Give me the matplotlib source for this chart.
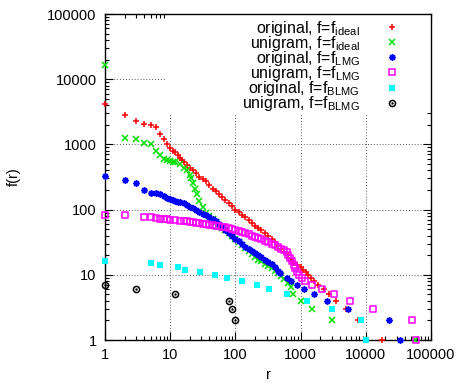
##########################################
# rank-frequency plot, gnuplot look-alike #
##########################################
import matplotlib
matplotlib.use('Agg')
import matplotlib.pyplot as plt
from matplotlib.path import Path
from matplotlib.transforms import Affine2D
from matplotlib.patches import Rectangle
from matplotlib.ticker import FixedLocator, FixedFormatter, LogLocator, NullFormatter

plt.rcParams['font.family'] = ['Liberation Sans', 'DejaVu Sans']
plt.rcParams['mathtext.fontset'] = 'custom'
plt.rcParams['mathtext.rm'] = 'Liberation Sans'
plt.rcParams['mathtext.it'] = 'Liberation Sans:italic'

# here is the data (rank r, frequency f)
r_orig_ideal = [1, 2, 3, 4, 5, 6, 7, 8, 9, 10, 11, 12, 13, 14, 15, 16, 18, 20, 22, 25, 28,
                32, 35, 40, 45, 50, 56, 63, 70, 80, 90, 100, 112, 125, 140, 160, 180, 200,
                225, 250, 280, 320, 360, 400, 450, 500, 560, 630, 710, 800, 880, 1000, 1100,
                1200, 1320, 1450, 1610, 1880, 2270, 2750, 3550, 5000, 7600, 18000]
f_orig_ideal = [4100, 2800, 2270, 2020, 1990, 1830, 1430, 1230, 1020, 870, 800, 760, 690,
                620, 570, 540, 480, 430, 400, 360, 320, 290, 270, 235, 210, 190, 172, 155,
                140, 125, 112, 100, 91, 84, 76, 69, 62, 57, 52, 48, 44, 40, 36, 32, 28, 25,
                22, 20, 17, 15, 14, 13, 12, 11, 10, 9, 8, 7, 6, 5, 4, 3, 2, 1]

r_uni_ideal = [1, 2, 3, 4, 5, 6, 7, 8, 9, 10, 11, 12, 14, 16, 18, 20, 21, 22, 24, 26, 28,
               32, 36, 40, 45, 50, 56, 63, 70, 80, 90, 100, 112, 125, 140, 160, 180, 200,
               225, 250, 280, 320, 360, 400, 450, 500, 560, 630, 700, 760, 1000, 1500, 3000,
               57700]
f_uni_ideal = [16500, 1250, 1230, 1040, 1010, 805, 680, 600, 570, 550, 545, 530, 500, 440,
               400, 340, 300, 260, 210, 175, 135, 110, 90, 80, 72, 65, 59, 53, 48, 44, 40,
               36, 32, 29, 26, 23, 21, 19, 17, 16, 14.5, 13.5, 12.5, 11.5, 10.5, 9.5, 8.5,
               7.5, 6.5, 5, 4, 3, 2, 1]

r_orig_lmg = [1, 2, 3, 4, 5, 6, 7, 8, 9, 10, 11, 12, 13, 14, 16, 18, 20, 22, 25, 28, 32, 36,
              40, 45, 50, 56, 63, 70, 80, 90, 100, 112, 125, 140, 160, 180, 200, 225, 250,
              280, 320, 360, 400, 450, 485, 612, 710, 880, 1120, 1620, 2500, 5400, 23000,
              33800]
f_orig_lmg = [327, 284, 260, 197, 182, 178, 172, 160, 150, 146, 140, 137, 133, 130, 125, 118,
              111, 106, 100, 93, 87, 82, 77, 72, 66, 60, 54, 49, 44, 40, 36, 33, 30, 27, 25,
              23, 21.5, 20, 18.5, 17, 15.5, 14.5, 13, 11.5, 10.5, 9, 8, 7, 6, 5, 4, 3, 2, 1]

r_uni_lmg = [1, 2, 4, 5, 6, 7, 8, 9, 10, 12, 14, 16, 18, 20, 22, 25, 28, 32, 36, 40, 45, 50,
             56, 63, 70, 80, 90, 100, 112, 125, 140, 160, 180, 200, 225, 250, 280, 320, 360,
             400, 450, 500, 550, 612, 650, 690, 730, 780, 825, 880, 960, 1050, 1170, 1500,
             2100, 3200, 5800, 12800, 50500, 59000]
f_uni_lmg = [84, 83, 78, 76, 74, 73, 72, 71, 70, 69, 68, 67, 66, 65, 64, 63, 62, 61, 60, 59,
             58, 57, 56, 55, 54, 52, 51, 49, 47, 45, 43, 42, 40, 38.5, 37, 35, 33, 31.5, 30,
             28.5, 27, 25, 24, 22, 20, 18, 16, 14, 12.5, 11, 10, 9, 8, 7, 6, 5, 4, 3, 2, 1]

r_orig_blmg = [1, 5, 7, 13, 17, 29, 49, 75, 127, 211, 331, 612, 1264, 3012, 8530, 10000]
f_orig_blmg = [16, 15, 14, 13, 12, 11, 10, 9, 8, 7, 6, 5, 4, 3, 2, 1]

r_uni_blmg = [1, 3, 12, 80, 90, 99]
f_uni_blmg = [7, 6, 5, 4, 3, 2]

labels = ['original, f=f$_{\\rm ideal}$', 'unigram, f=f$_{\\rm ideal}$',
          'original, f=f$_{\\rm LMG}$', 'unigram, f=f$_{\\rm LMG}$',
          'original, f=f$_{\\rm BLMG}$', 'unigram, f=f$_{\\rm BLMG}$']


# markers with a little dot in the middle, like gnuplot draws them
def dotted(outer):
    dot = Path.unit_rectangle().transformed(Affine2D().translate(-0.5, -0.5).scale(0.12))
    return Path.make_compound_path(outer, dot)


square = Path.unit_rectangle().transformed(Affine2D().translate(-0.5, -0.5))
circle = Path.unit_circle().transformed(Affine2D().scale(0.5))

fig = plt.figure(figsize=(4.6, 3.85), dpi=100)
ax = fig.add_axes([105 / 460, 1 - 340 / 385, 326 / 460, 326 / 385])

# one call per series: (r, f, marker, size, color, filled)
series = [
    (r_orig_ideal, f_orig_ideal, '+', 4.8, '#ff0000', True),
    (r_uni_ideal, f_uni_ideal, 'x', 4.0, '#00e000', True),
    (r_orig_lmg, f_orig_lmg, (8, 2, 0), 4.6, '#0000ff', True),
    (r_uni_lmg, f_uni_lmg, dotted(square), 4.6, '#ff00ff', False),
    (r_orig_blmg, f_orig_blmg, 's', 4.0, '#00ffff', True),
    (r_uni_blmg, f_uni_blmg, dotted(circle), 4.4, 'black', False),
]
for (r, f, mk, ms, col, filled), lab in zip(series, labels):
    ax.loglog(r, f, ls='none', marker=mk, ms=ms, mew=0 if mk == 's' else 1.1,
              color=col, mfc=col if filled else 'none', label=lab,
              zorder=3, clip_on=False)

ax.set_xlim(1, 100000)
ax.set_ylim(1, 100000)

decades = [1, 10, 100, 1000, 10000, 100000]
ax.xaxis.set_major_locator(FixedLocator(decades))
ax.xaxis.set_major_formatter(FixedFormatter([str(d) for d in decades]))
ax.yaxis.set_major_locator(FixedLocator(decades))
ax.yaxis.set_major_formatter(FixedFormatter([str(d) for d in decades]))
for axis in (ax.xaxis, ax.yaxis):
    axis.set_minor_locator(LogLocator(base=10, subs=range(2, 10)))
    axis.set_minor_formatter(NullFormatter())

# gnuplot style ticks: inward, on every side
ax.tick_params(which='both', direction='in', top=True, right=True, width=0.8)
ax.tick_params(which='major', length=6, labelsize=10.5, pad=6)
ax.tick_params(which='minor', length=3)
for s in ax.spines.values():
    s.set_linewidth(1.0)

ax.set_axisbelow(True)
ax.grid(True, which='major', color='0.35', linestyle=(0, (1, 2)), linewidth=0.7)

# white key box hides the grid behind the legend
ax.add_patch(Rectangle((60 / 326, 1 - 99 / 326), 266 / 326, 99 / 326,
                       transform=ax.transAxes, facecolor='white', edgecolor='none',
                       zorder=1))

ax.set_xlabel('r', fontsize=10.5, labelpad=4)
ax.set_ylabel('f(r)', fontsize=10.5, labelpad=19)

ax.legend(loc='upper right', bbox_to_anchor=(0.905, 0.986), markerfirst=False,
          frameon=False, numpoints=1, handlelength=1.0, handletextpad=1.5,
          borderpad=0, borderaxespad=0, labelspacing=-0.24, fontsize=11.5)

fig.savefig('out.png', dpi=100)
